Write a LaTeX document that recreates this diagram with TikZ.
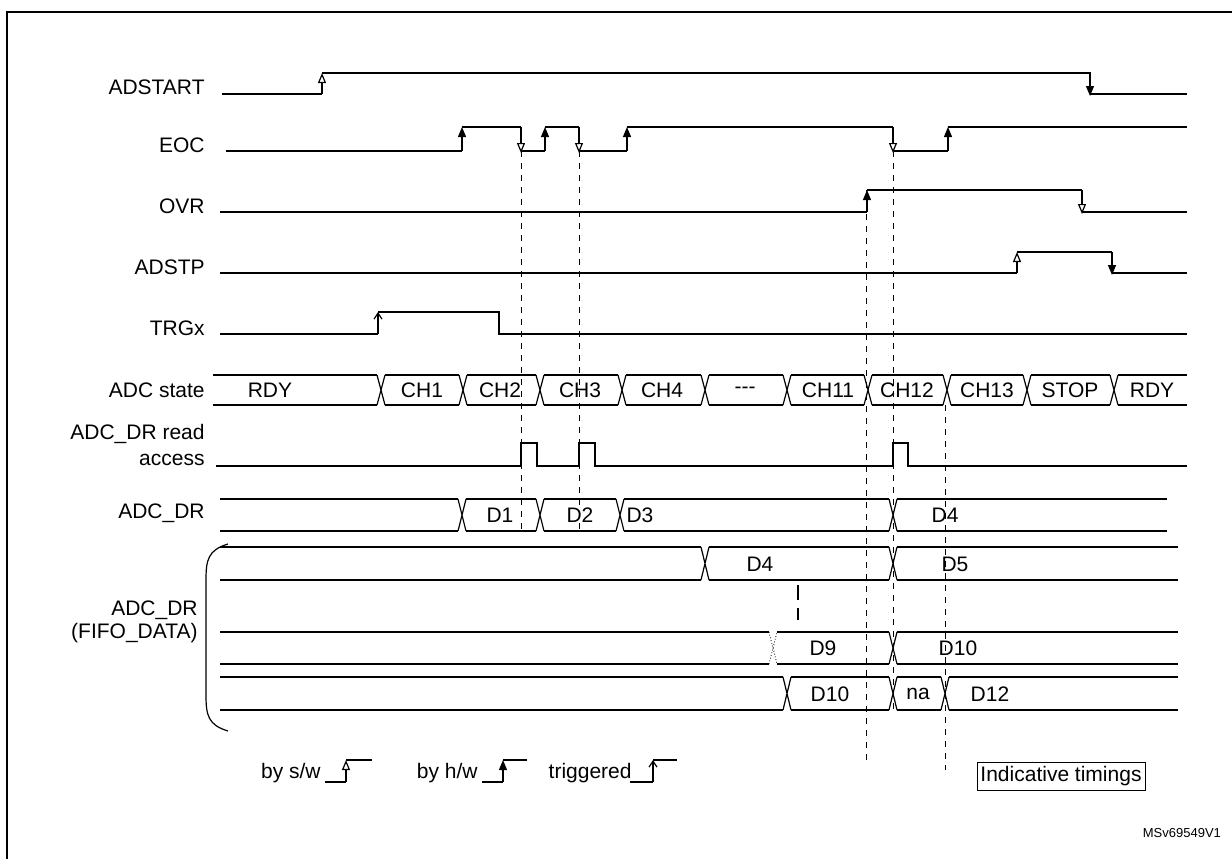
\documentclass[tikz,border=0pt]{standalone}
\usepackage{fontspec}
\setmainfont{Liberation Sans}
\usetikzlibrary{arrows.meta}
\tikzset{
	sw/.style={-{Triangle[open,length=5pt,width=4pt]}},
	hw/.style={-{Triangle[length=5pt,width=4pt]}},
	trg/.style={-{Straight Barb[length=3pt,width=4pt]}},
	sig/.style={line width=0.6pt},
	cursor/.style={dashed,line width=0.5pt},
	lab/.style={anchor=east,inner sep=1pt,font=\fontsize{10.5}{12}\selectfont},
	val/.style={inner sep=1pt,font=\fontsize{10.5}{12}\selectfont}
}
% bus row: from, to, top, bottom, crossings
\newcommand{\busrow}[5]{%
	\draw[sig] (#1,#3) -- (#2,#3) (#1,#4) -- (#2,#4);
	\foreach \cx in {#5} {
		\fill[white] (\cx-4,#3-1) rectangle (\cx+4,#4+1);
		\draw[sig] (\cx-4,#3) -- (\cx+4,#4) (\cx-4,#4) -- (\cx+4,#3);
	}
}
\begin{document}
\begin{tikzpicture}[x=0.5pt,y=-0.5pt]
		\useasboundingbox (0,0) rectangle (1232,858);
		\draw[line width=1pt] (7,870) -- (7,12) -- (1240,12);
		% labels
		\node[lab] at (207,87) {ADSTART};
		\node[lab] at (207,145) {EOC};
		\node[lab] at (207,206) {OVR};
		\node[lab] at (207,267) {ADSTP};
		\node[lab] at (207,328) {TRGx};
		\node[lab] at (207,390) {ADC state};
		\node[lab] at (207,434) {ADC\_DR read};
		\node[lab] at (207,460) {access};
		\node[lab] at (207,513) {ADC\_DR};
		\node[lab] at (200,610) {ADC\_DR};
		\node[lab] at (200,633) {(FIFO\_DATA)};
		% waveforms
		\draw[sig] (222,94) -- (322,94) (322,73) -- (1090,73) -- (1090,84) (1090,94) -- (1187,94);
		\draw[sig,sw] (322,94) -- (322,73);
		\draw[sig,hw] (1090,73) -- (1090,96);
		\draw[sig] (226,151) -- (462,151) (462,127) -- (521,127) (521,151) -- (545,151) (545,127) -- (579,127)
			(579,151) -- (627,151) (627,127) -- (893,127) (893,151) -- (948,151) (948,127) -- (1187,127);
		\foreach \ux in {462,545,627,948} \draw[sig,hw] (\ux,151) -- (\ux,127);
		\foreach \dx in {521,579,893} \draw[sig,sw] (\dx,127) -- (\dx,153);
		\draw[sig] (220,212) -- (867,212) (867,190) -- (1082,190) (1082,212) -- (1187,212);
		\draw[sig,hw] (867,212) -- (867,190);
		\draw[sig,sw] (1082,190) -- (1082,214);
		\draw[sig] (220,273) -- (1017,273) (1017,252) -- (1112,252) (1112,273) -- (1187,273);
		\draw[sig,sw] (1017,273) -- (1017,252);
		\draw[sig,hw] (1112,252) -- (1112,275);
		\draw[sig] (220,334) -- (378,334) (378,312) -- (499,312) -- (499,334) -- (1187,334);
		\draw[sig,trg] (378,334) -- (378,312);
		% ADC state
		\busrow{213}{1187}{375}{405}{381,463,540,622,705,787,868,947,1027,1114}
		\foreach \sx/\st in {270/RDY,422/CH1,500/CH2,580/CH3,662/CH4,745/{-{}-{}-},828/CH11,907/CH12,987/CH13,1070/STOP,1152/RDY}
			\node[val] at (\sx,390) {\st};
		% read access
		\draw[sig] (216,466) -- (521,466) |- (537,443) |- (579,466) |- (595,443) |- (893,466) |- (908,443) |- (1187,466);
		% ADC_DR
		\busrow{220}{1167}{499}{531}{462,540,620,893}
		\foreach \sx/\st in {500/D1,580/D2,640/D3,945/D4} \node[val] at (\sx,515) {\st};
		% FIFO
		\busrow{220}{1178}{547}{580}{705,893}
		\node[val] at (760,564) {D4};
		\node[val] at (955,564) {D5};
		\draw[sig] (220,632) -- (1178,632) (220,664) -- (1178,664);
		\fill[white] (769,631) rectangle (777,665);
		\draw[densely dotted] (769,632) -- (777,664) (769,664) -- (777,632);
		\busrow{893}{893}{632}{664}{893}
		\node[val] at (823,648) {D9};
		\node[val] at (958,648) {D10};
		\busrow{220}{1178}{677}{710}{787,893,945}
		\node[val] at (830,694) {D10};
		\node[val] at (918,694) {na};
		\node[val] at (990,694) {D12};
		\draw[sig] (798,585) -- (798,600) (798,608) -- (798,620);
		\draw[sig] (228,544) .. controls (208,550) and (206,560) .. (206,580) -- (206,695) .. controls (206,715) and (208,725) .. (228,731);
		% cursors
		\draw[cursor] (521,151) -- (521,530);
		\draw[cursor] (579,151) -- (579,530);
		\draw[cursor] (866,190) -- (866,760);
		\draw[cursor] (893,151) -- (893,712);
		\draw[cursor] (945,405) -- (945,770);
		% legend
		\node[val,anchor=east] at (323,773) {by s/w};
		\draw[sig] (325,782) -- (346,782);
		\draw[sig,sw] (346,782) -- (346,760);
		\draw[sig] (346,760) -- (372,760);
		\node[val,anchor=east] at (480,773) {by h/w};
		\draw[sig] (482,782) -- (503,782);
		\draw[sig,hw] (503,782) -- (503,760);
		\draw[sig] (503,760) -- (527,760);
		\node[val,anchor=east] at (634,773) {triggered};
		\draw[sig] (630,782) -- (653,782);
		\draw[sig,trg] (653,782) -- (653,760);
		\draw[sig] (653,760) -- (677,760);
		\node[val,draw,line width=0.5pt,minimum width=84pt,minimum height=14pt,inner sep=1pt] at (1061,776) {Indicative timings};
		\node[font=\fontsize{6.5}{7}\selectfont,anchor=east] at (1228,833) {MSv69549V1};
	\end{tikzpicture}
\end{document}
